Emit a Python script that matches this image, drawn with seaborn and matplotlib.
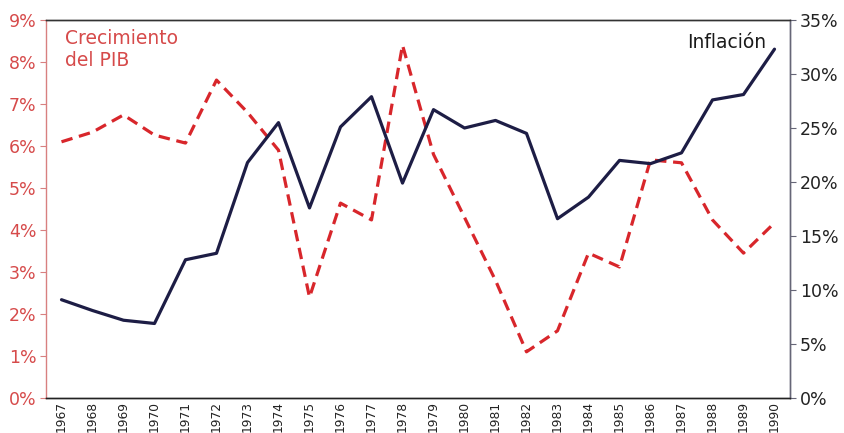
import matplotlib
matplotlib.use("Agg")
import matplotlib.pyplot as plt
import numpy as np
import pandas as pd
import seaborn as sns

years = list(range(1967, 1991))

# crecimiento del PIB (%), eje izquierdo
pib = [6.1, 6.33, 6.74, 6.26, 6.07, 7.57, 6.8, 5.9, 2.4, 4.64, 4.24, 8.4,
       5.8, 4.3, 2.8, 1.1, 1.6, 3.45, 3.12, 5.67, 5.6, 4.24, 3.45, 4.17]

# inflacion (%), eje derecho
inflacion = [9.1, 8.1, 7.2, 6.9, 12.8, 13.4, 21.8, 25.5, 17.6, 25.1, 27.9, 19.9,
             26.7, 25.0, 25.7, 24.5, 16.6, 18.6, 22.0, 21.7, 22.7, 27.6, 28.1, 32.3]

left_ticks = list(range(0, 10))
right_ticks = list(range(0, 40, 5))

RED = "#d8262b"
NAVY = "#1d1d45"

df = pd.DataFrame({"year": years, "pib": pib, "inflacion": inflacion})

sns.set_style("white")
plt.rcParams["font.family"] = ["Liberation Sans Narrow", "DejaVu Sans"]

fig = plt.figure(figsize=(8.45, 4.33), dpi=100)
ax = fig.add_axes([46 / 845, 1 - 398 / 433, (790 - 46) / 845, (398 - 20) / 433])
ax2 = ax.twinx()

sns.lineplot(data=df, x="year", y="pib", ax=ax, color=RED, linewidth=2.3,
             zorder=2)
ax.lines[-1].set_dashes([3.6, 2.1])
sns.lineplot(data=df, x="year", y="inflacion", ax=ax2, color=NAVY, linewidth=2.3,
             zorder=3)

ax.set_xlim(1966.5, 1990.5)
ax.set_ylim(0, 9)
ax2.set_ylim(0, 35)

ax.set_yticks(left_ticks)
ax.set_yticklabels([f"{t}%" for t in left_ticks], color="#d64a4a", fontsize=12.5)
ax2.set_yticks(right_ticks)
ax2.set_yticklabels([f"{t}%" for t in right_ticks], color="#222222", fontsize=12.5)

ax.set_xticks(years)
ax.set_xticklabels([str(y) for y in years], rotation=90, fontsize=8.8, color="#222222")
ax.set_xticks(np.arange(1967.5, 1990.5, 1), minor=True)
ax.tick_params(axis="x", which="major", length=0, pad=2)
ax.tick_params(axis="x", which="minor", length=4, direction="out", color="#222222")
ax.tick_params(axis="y", length=4, direction="out", color="#d88080", pad=3)
ax2.tick_params(axis="y", length=4, direction="out", color="#666677", pad=3)

ax.set_xlabel("")
ax.set_ylabel("")
ax2.set_ylabel("")

for a in (ax, ax2):
    a.spines["left"].set_color("#d88080")
    a.spines["right"].set_color("#666677")
    a.spines["top"].set_color("#333333")
    a.spines["bottom"].set_color("#222222")
    for s in a.spines.values():
        s.set_linewidth(1.0)
ax2.spines["left"].set_visible(False)

ax.text(0.025, 0.975, "Crecimiento\ndel PIB", transform=ax.transAxes, ha="left",
        va="top", color="#d64a4a", fontsize=13.5, linespacing=1.15)
ax.text(0.968, 0.94, "Inflación", transform=ax.transAxes, ha="right",
        va="center", color="#1a1a1a", fontsize=13.5)

fig.savefig("out.png", dpi=100)
